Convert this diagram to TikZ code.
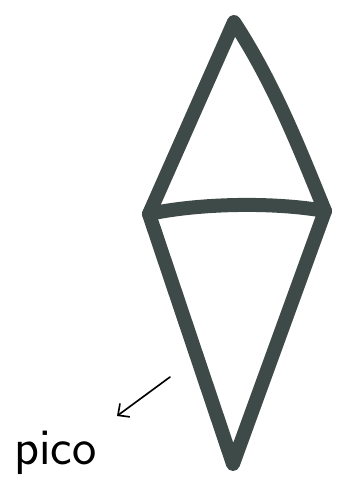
\documentclass[tikz,border=0pt]{standalone}
\usepackage{tikz}
\usetikzlibrary{arrows.meta,positioning,calc}

\definecolor{marker}{RGB}{62,74,71}

\begin{document}
\begin{tikzpicture}[x=0.03cm, y=-0.03cm,
  stroke/.style={draw=marker, line width=0.42cm, line join=round, line cap=round},
  pointer/.style={draw=black, line width=1.4pt, line cap=round, -{Straight Barb[length=2.6mm, width=5mm, line width=1.4pt]}},
  lbl/.style={font=\sffamily\fontsize{44}{46}\selectfont, text=black, inner sep=0pt}]
  \useasboundingbox (0,0) rectangle (347,498);
  % corners of the kite
  \coordinate (top) at (234,22);
  \coordinate (lft) at (149,214);
  \coordinate (rgt) at (325,211);
  \coordinate (bot) at (233,464);
  % outline
  \draw[stroke] (top) -- (lft) -- (bot) -- (rgt) .. controls (300,150) and (275,85) .. (top) -- cycle;
  % cross bar
  \draw[stroke] (lft) .. controls (200,203) and (275,202) .. (rgt);
  % label and pointer
  \node[lbl, anchor=base west] (pico) at (14,464) {pico};
  \coordinate (tail) at (170,377);
  \coordinate (tip) at (117,416);
  \draw[pointer] (tail) -- (tip);
\end{tikzpicture}
\end{document}
